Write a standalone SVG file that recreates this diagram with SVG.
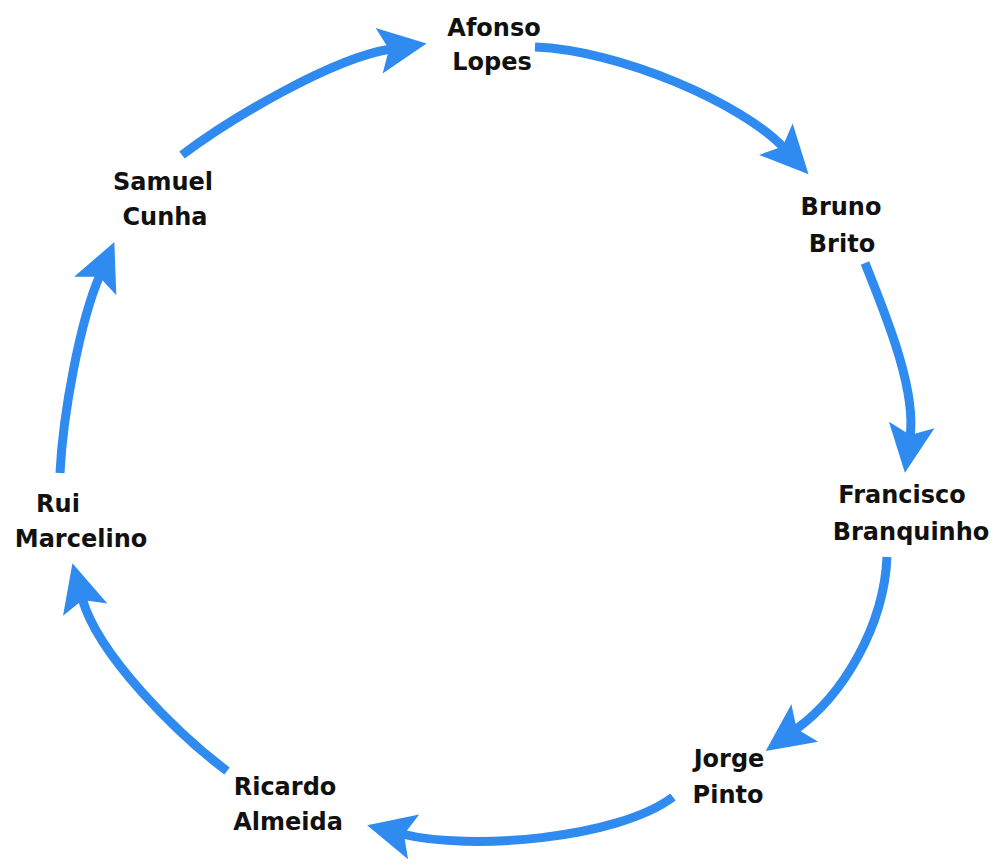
<svg xmlns="http://www.w3.org/2000/svg" width="1000" height="865" viewBox="0 0 1000 865">
<style>
.lbl{font-family:"DejaVu Sans","Liberation Sans",sans-serif;font-weight:bold;font-size:24px;fill:#111;text-anchor:middle}
.con{fill:none;stroke:#2F8BF0;stroke-width:9;marker-end:url(#ah)}
</style>
<defs>
<marker id="ah" markerUnits="userSpaceOnUse" markerWidth="60" markerHeight="60" refX="6" refY="0" orient="auto" overflow="visible">
<path d="M-6,-23 L42,0 L-6,23 L4,0 Z" fill="#2F8BF0"/>
</marker>
</defs>
<rect width="1000" height="865" fill="#fff"/>
<g id="connectors">
<path class="con" d="M535,47 C620,50 743,104 784,148"/>
<path class="con" d="M865,263 C883,309 917,388 910,437"/>
<path class="con" d="M887,557 C884,625 844,695 795,730"/>
<path class="con" d="M673,797 C617,839 470,851 402,834"/>
<path class="con" d="M227,771 C179,735 98,656 82,598"/>
<path class="con" d="M60,473 C63,413 80,321 100,275"/>
<path class="con" d="M182,155 C230,119 332,58 391,49"/>
</g>
<g id="afonso"><text class="lbl" x="494" y="36">Afonso</text><text class="lbl" x="492" y="70">Lopes</text></g>
<g id="bruno"><text class="lbl" x="841" y="215">Bruno</text><text class="lbl" x="842" y="252">Brito</text></g>
<g id="francisco"><text class="lbl" x="902" y="503">Francisco</text><text class="lbl" x="911" y="540">Branquinho</text></g>
<g id="jorge"><text class="lbl" x="729" y="767">Jorge</text><text class="lbl" x="728" y="803">Pinto</text></g>
<g id="ricardo"><text class="lbl" x="285" y="795">Ricardo</text><text class="lbl" x="288" y="830">Almeida</text></g>
<g id="rui"><text class="lbl" x="58" y="512">Rui</text><text class="lbl" x="81" y="547">Marcelino</text></g>
<g id="samuel"><text class="lbl" x="163" y="190">Samuel</text><text class="lbl" x="165" y="225">Cunha</text></g>
</svg>
